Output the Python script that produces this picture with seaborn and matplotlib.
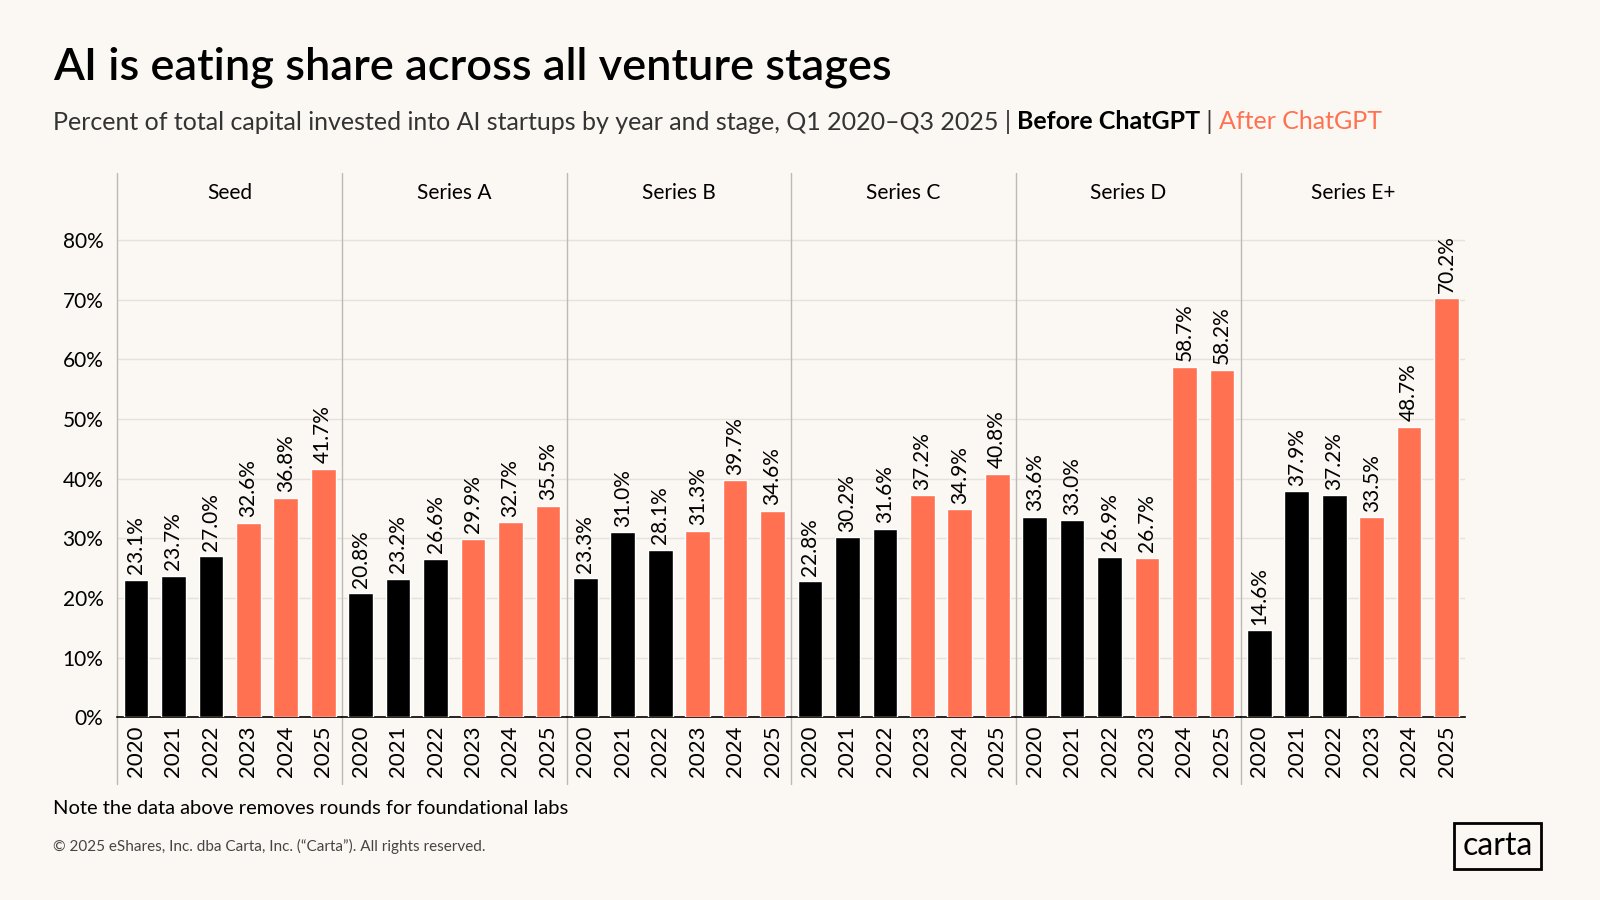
import seaborn as sns
import numpy as np
import pandas as pd
import matplotlib.pyplot as plt

stages = ["Seed", "Series A", "Series B", "Series C", "Series D", "Series E+"]
years = ["2020", "2021", "2022", "2023", "2024", "2025"]
periods = ["Before ChatGPT", "Before ChatGPT", "Before ChatGPT",
           "After ChatGPT", "After ChatGPT", "After ChatGPT"]

seed = [23.1, 23.7, 27.0, 32.6, 36.8, 41.7]
series_a = [20.8, 23.2, 26.6, 29.9, 32.7, 35.5]
series_b = [23.3, 31.0, 28.1, 31.3, 39.7, 34.6]
series_c = [22.8, 30.2, 31.6, 37.2, 34.9, 40.8]
series_d = [33.6, 33.0, 26.9, 26.7, 58.7, 58.2]
series_e = [14.6, 37.9, 37.2, 33.5, 48.7, 70.2]
yticks = [0, 10, 20, 30, 40, 50, 60, 70, 80]

BG = "#FBF8F3"
ORANGE = "#FF7150"
GRID = "#E6E2DB"
DIV = "#BDBAB4"

rows = []
for stage, vals in zip(stages, [seed, series_a, series_b, series_c, series_d, series_e]):
    for y, p, v in zip(years, periods, vals):
        rows.append({"stage": stage, "year": y, "period": p, "value": v})
df = pd.DataFrame(rows)

sns.set_theme(style="white")
plt.rcParams["font.family"] = ["Lato", "DejaVu Sans"]
plt.rcParams["figure.facecolor"] = BG
plt.rcParams["axes.facecolor"] = BG
plt.rcParams["text.color"] = "black"
plt.rcParams["xtick.color"] = "black"
plt.rcParams["ytick.color"] = "black"

fig, axes = plt.subplots(1, 6, figsize=(16, 9), dpi=100, sharey=True)
fig.subplots_adjust(left=0.0733, right=0.9158, bottom=0.2029, top=0.7732, wspace=0)

palette = {"Before ChatGPT": "black", "After ChatGPT": ORANGE}

for ax, stage in zip(axes, stages):
    sub = df[df["stage"] == stage]
    sns.barplot(data=sub, x="year", y="value", hue="period", palette=palette,
                dodge=False, width=0.66, saturation=1, legend=False, ax=ax, zorder=3)
    for c in ax.containers:
        ax.bar_label(c, fmt="%.1f%%", rotation=90, padding=4, fontsize=15)
    ax.set_ylim(0, 86)
    ax.set_xlim(-0.5, 5.5)
    ax.set_yticks(yticks)
    for t in yticks[1:]:
        ax.axhline(t, color=GRID, lw=1, zorder=0)
    ax.set_xlabel("")
    ax.set_ylabel("")
    ax.tick_params(axis="x", labelrotation=90, labelsize=16, length=0, pad=6)
    ax.tick_params(axis="y", labelsize=15, length=0, pad=10)
    for s in ["top", "right", "left"]:
        ax.spines[s].set_visible(False)
    ax.spines["bottom"].set_color("black")
    ax.spines["bottom"].set_linewidth(1.2)
    ax.set_title(stage, fontsize=15, pad=4)
    ax.axvline(-0.5, ymin=-0.13, ymax=1.06, color=DIV, lw=1, clip_on=False, zorder=1)

axes[0].set_yticklabels([f"{t}%" for t in yticks])

fig.text(0.033, 0.925, "AI is eating share across all venture stages",
         fontsize=32.5, fontweight="semibold", va="center", ha="left")

fig.canvas.draw()
renderer = fig.canvas.get_renderer()
parts = [
    ("Percent of total capital invested into AI startups by year and stage, Q1 2020\u2013Q3 2025 | ", "#333333", "normal"),
    ("Before ChatGPT", "black", "bold"),
    (" | ", "#333333", "normal"),
    ("After ChatGPT", ORANGE, "normal"),
]
x = 0.033
for txt, col, wt in parts:
    t = fig.text(x, 0.865, txt, fontsize=18, color=col, fontweight=wt, va="center", ha="left")
    bb = t.get_window_extent(renderer=renderer)
    x += bb.width / fig.bbox.width

fig.text(0.033, 0.102, "Note the data above removes rounds for foundational labs",
         fontsize=14.5, va="center", ha="left")
fig.text(0.033, 0.059, "\u00a9 2025 eShares, Inc. dba Carta, Inc. (\u201cCarta\u201d). All rights reserved.",
         fontsize=11, color="#444444", va="center", ha="left")
fig.text(0.936, 0.060, "carta", fontsize=23, va="center", ha="center",
         bbox=dict(boxstyle="square,pad=0.25", fc=BG, ec="black", lw=2))

fig.savefig("out.png", dpi=100, facecolor=BG)
